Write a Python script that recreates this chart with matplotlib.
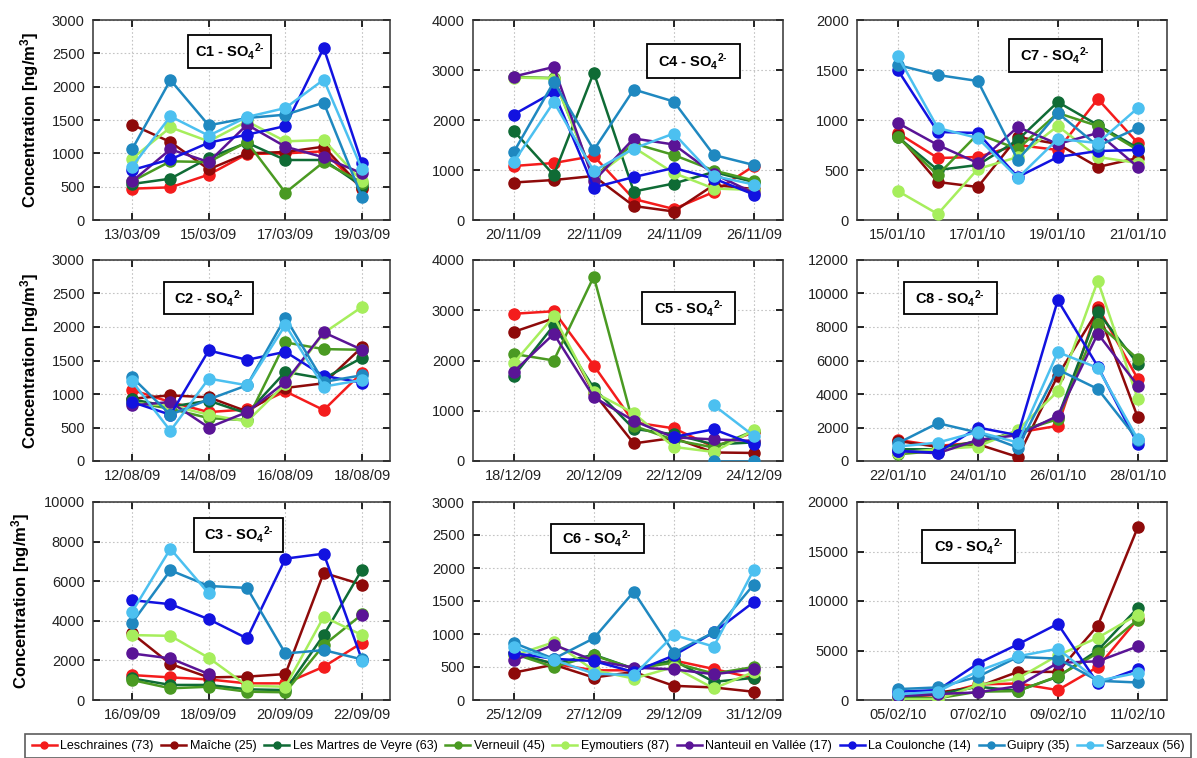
import numpy as np
import pandas as pd
import matplotlib
matplotlib.use("Agg")
import matplotlib.pyplot as plt
import matplotlib.dates as mdates
from matplotlib.lines import Line2D
from matplotlib import font_manager

plt.rcParams["font.family"] = ["Liberation Sans", "DejaVu Sans"]
plt.rcParams["mathtext.fontset"] = "custom"
plt.rcParams["mathtext.rm"] = "Liberation Sans:bold"
plt.rcParams["mathtext.it"] = "Liberation Sans:bold"
plt.rcParams["mathtext.bf"] = "Liberation Sans:bold"
plt.rcParams["mathtext.default"] = "rm"

nan = np.nan

# Sampling sites (department number in brackets) and their colours
sites = ["Leschraines (73)", "Maîche (25)", "Les Martres de Veyre (63)",
         "Verneuil (45)", "Eymoutiers (87)", "Nanteuil en Vallée (17)",
         "La Coulonche (14)", "Guipry (35)", "Sarzeaux (56)"]
colors = ["#f41c1c", "#8e0a0a", "#0f6b35", "#4a9a22", "#a6ee5c",
          "#5a1496", "#1212e0", "#1f88c0", "#4cc0f0"]

# Campaigns: name, first day, y-axis maximum
campaigns = ["C1", "C4", "C7", "C2", "C5", "C8", "C3", "C6", "C9"]
start_days = ["2009-03-13", "2009-11-20", "2010-01-15",
              "2009-08-12", "2009-12-18", "2010-01-22",
              "2009-09-16", "2009-12-25", "2010-02-05"]
y_max = [3000, 4000, 2000, 3000, 4000, 12000, 10000, 3000, 20000]
y_step = [500, 1000, 500, 500, 1000, 2000, 2000, 500, 5000]

# Daily SO4 2- concentrations (ng/m3), one list per site, in site order
c1 = [[470, 490, 680, 990, 1000, 1030, 470],
      [1430, 1170, 760, 1000, 1020, 1100, 480],
      [540, 620, 930, 1160, 900, 900, 510],
      [580, 880, 870, 1170, 410, 870, 560],
      [920, 1390, 1180, 1480, 1180, 1200, 580],
      [580, 1060, 870, 1430, 1100, 940, 700],
      [750, 910, 1160, 1280, 1410, 2580, 850],
      [1060, 2100, 1420, 1530, 1580, 1760, 340],
      [800, 1555, 1265, 1545, 1680, 2105, 760]]
c4 = [[1080, 1140, 1280, 420, 220, 560, 1080],
      [750, 800, 880, 280, 170, 700, 620],
      [1780, 900, 2950, 570, 730, 960, 760],
      [2860, 2840, 860, 1530, 1300, 990, 790],
      [2850, 2830, 850, 1450, 940, 630, 600],
      [2870, 3060, 780, 1630, 1510, 920, 540],
      [2110, 2560, 650, 860, 1040, 830, 510],
      [1360, 2760, 1400, 2610, 2370, 1300, 1100],
      [1160, 2360, 980, 1430, 1730, 880, 710]]
c7 = [[870, 620, 630, 750, 700, 1210, 770],
      [850, 380, 330, 830, 760, 530, 620],
      [830, 500, 550, 800, 1180, 950, 720],
      [830, 450, 860, 710, 1070, 940, 700],
      [290, 60, 510, 630, 940, 630, 570],
      [970, 750, 570, 930, 760, 870, 530],
      [1500, 880, 870, 430, 630, 690, 700],
      [1550, 1450, 1390, 600, 1070, 740, 920],
      [1640, 920, 820, 420, 810, 770, 1120]]
c2 = [[1060, 880, 730, 770, 1040, 760, 1320],
      [930, 980, 950, 740, 1090, 1160, 1700],
      [920, 810, 900, 710, 1330, 1230, 1540],
      [880, 780, 640, 610, 1770, 1670, 1660],
      [860, 830, 690, 590, 1150, 1910, 2300],
      [830, 880, 500, 730, 1180, 1920, 1660],
      [880, 690, 1650, 1510, 1630, 1270, 1170],
      [1250, 690, 920, 1130, 2140, 1180, 1280],
      [1190, 450, 1230, 1130, 2030, 1110, 1210]]
c5 = [[2930, 2980, 1900, 770, 650, 280, 570],
      [2570, 2840, 1350, 350, 460, 170, 160],
      [1690, 2700, 1450, 640, 530, 330, 370],
      [2130, 2000, 3670, 700, 420, 270, 600],
      [1950, 2880, 1370, 950, 280, 180, 610],
      [1780, 2530, 1270, 800, 470, 430, 400],
      [nan, nan, nan, nan, 480, 630, 330],
      [nan, nan, nan, nan, nan, 0, 0],
      [nan, nan, nan, nan, nan, 1110, 500]]
c8 = [[1260, 900, 1100, 1700, 2100, 9200, 4900],
      [1200, 840, 1000, 240, 5100, 9000, 2600],
      [700, 700, 1200, 1700, 2600, 8900, 5800],
      [400, 600, 1100, 1740, 2500, 8200, 6100],
      [500, 700, 860, 1860, 4160, 10760, 3700],
      [600, 460, 1260, 1540, 2700, 7600, 4500],
      [600, 500, 2000, 1540, 9600, 5640, 1000],
      [1060, 2260, 1700, 800, 5460, 4300, 1260],
      [860, 1100, 1740, 1100, 6500, 5560, 1300]]
c3 = [[1260, 1140, 1040, 840, 840, 1680, 2890],
      [3360, 1820, 1140, 1180, 1310, 6420, 5830],
      [1090, 760, 760, 540, 500, 3280, 6590],
      [1010, 590, 670, 420, 390, 2770, 4320],
      [3280, 3240, 2130, 720, 670, 4200, 3280],
      [2350, 2100, 1310, nan, nan, nan, 4270],
      [5040, 4840, 4080, 3110, 7140, 7390, 2020],
      [3900, 6550, 5760, 5660, 2350, 2520, 2050],
      [4450, 7640, 5380, nan, nan, nan, 1970]]
c6 = [[700, 550, 450, 450, 600, 470, 330],
      [415, 535, 340, 425, 215, 190, 125],
      [710, 550, 685, 475, 600, 275, 335],
      [700, 500, 675, 475, 565, 400, 500],
      [675, 875, 450, 325, 500, 175, 425],
      [600, 835, 600, 490, 465, 390, 465],
      [710, 625, 590, 425, 675, 1025, 1485],
      [865, 625, 935, 1640, 715, 1025, 1750],
      [800, 610, 400, 375, 985, 810, 1975]]
c9 = [[330, 500, 1570, 1670, 1000, 3340, 8190],
      [500, 740, 1340, 2840, 2840, 7520, 17450],
      [330, 570, 1340, 940, 2340, 5020, 9300],
      [170, 170, 840, 900, 2400, 4750, 8130],
      [70, 70, 1500, 2170, 4510, 6290, 8630],
      [400, 600, 770, 1400, 3750, 3910, 5420],
      [840, 1000, 3680, 5620, 7690, 1670, 3140],
      [1100, 1270, 2340, 4350, 4180, 1940, 1770],
      [570, 840, 2910, 4410, 5180, 1940, 2740]]
values = [c1, c4, c7, c2, c5, c8, c3, c6, c9]

# Title box positions in axes fraction (x0, y0, x1, y1)
box_pos = [(0.32, 0.76, 0.60, 0.925), (0.56, 0.71, 0.86, 0.88),
           (0.49, 0.74, 0.79, 0.905), (0.24, 0.73, 0.54, 0.89),
           (0.545, 0.68, 0.845, 0.84), (0.15, 0.73, 0.45, 0.89),
           (0.34, 0.75, 0.64, 0.92), (0.25, 0.74, 0.55, 0.89),
           (0.21, 0.69, 0.51, 0.86)]

W, H = 1197, 758
fig = plt.figure(figsize=(W / 100, H / 100), dpi=100)

col_px = [(93, 390), (473, 783), (857, 1167)]
row_px = [(20, 220), (260, 461), (502, 700)]

for k, name in enumerate(campaigns):
    r, c = divmod(k, 3)
    x0, x1 = col_px[c]
    t0, b0 = row_px[r]
    ax = fig.add_axes([x0 / W, 1 - b0 / H, (x1 - x0) / W, (b0 - t0) / H])
    days = pd.date_range(start_days[k], periods=7, freq="D")
    for s in range(len(sites)):
        ax.plot(days, values[k][s], color=colors[s], lw=1.8, marker="o",
                ms=8, mec=colors[s], mfc=colors[s], zorder=3)
    first = days[0]
    ax.set_xlim(first - pd.Timedelta(days=1.02), first + pd.Timedelta(days=6.73))
    ax.set_xticks(days[::2])
    ax.xaxis.set_major_formatter(mdates.DateFormatter("%d/%m/%y"))
    ax.set_ylim(0, y_max[k])
    ax.set_yticks(np.arange(0, y_max[k] + 1, y_step[k]))
    ax.grid(True, color="#c4c4c4", ls=(0, (1.5, 2)), lw=0.8, zorder=0)
    ax.tick_params(direction="in", length=5, width=1.2, top=True, right=True,
                   labelsize=10.5, colors="black", labelcolor="#222222", pad=6)
    for sp in ax.spines.values():
        sp.set_linewidth(1.1)
        sp.set_color("#333333")
    if c == 0:
        ax.set_ylabel(r"Concentration [ng/m$^3$]", fontsize=12, fontweight="bold",
                      labelpad=8)
    bx0, by0, bx1, by1 = box_pos[k]
    ax.add_patch(plt.Rectangle((bx0, by0), bx1 - bx0, by1 - by0,
                               transform=ax.transAxes, fill=True, fc="white",
                               ec="black", lw=1.3, zorder=5))
    ax.text((bx0 + bx1) / 2, (by0 + by1) / 2, name + r" - SO$_4$$^{2\text{-}}$",
            transform=ax.transAxes, ha="center", va="center", fontsize=10.5,
            fontweight="bold", zorder=6)

# Legend font: a condensed face if one is available
try:
    font_manager.findfont("Liberation Sans Narrow", fallback_to_default=False)
    leg_family, leg_size = "Liberation Sans Narrow", 10.5
except Exception:
    leg_family, leg_size = "Liberation Sans", 9.0

handles = [Line2D([], [], color=col, lw=1.8, marker="o", ms=5) for col in colors]
leg = fig.legend(handles, sites, loc="center",
                 bbox_to_anchor=((22 + 1194) / 2 / W, 1 - 746 / H),
                 ncol=9, frameon=True, fancybox=False,
                 edgecolor="#333333", handlelength=2.0,
                 handletextpad=0.3, columnspacing=0.6, borderpad=0.5,
                 borderaxespad=0.2,
                 prop={"family": leg_family, "size": leg_size})
leg.get_frame().set_linewidth(1.2)

fig.savefig("out.png", dpi=100)
